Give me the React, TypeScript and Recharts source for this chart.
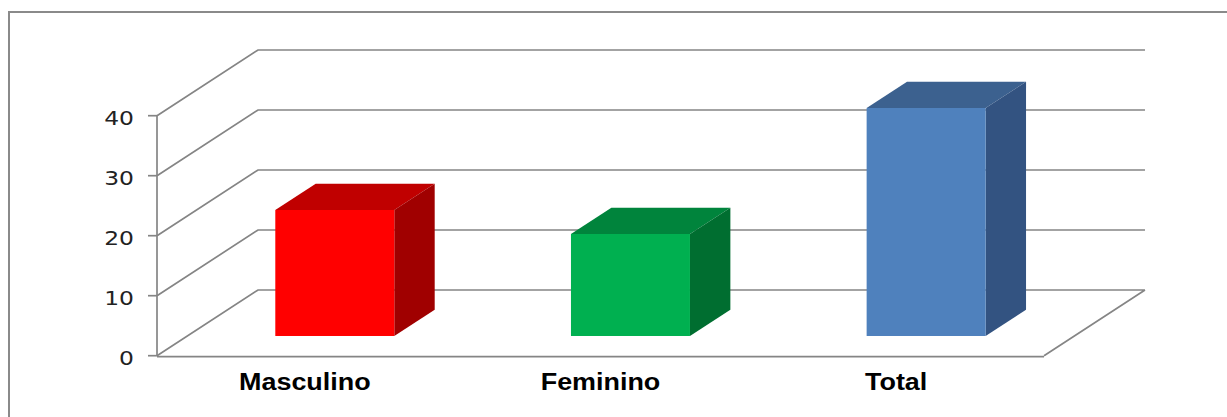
import React from 'react';
import { BarChart, Bar, XAxis, YAxis, CartesianGrid } from 'recharts';

const categories = ['Masculino', 'Feminino', 'Total'];
const values = [21, 17, 38];
const yTicks = [0, 10, 20, 30, 40];
const edgeTicks = [0, 1, 2, 3];

// face colours per bar: front, top, side
const frontColors = ['#FF0000', '#00B050', '#4F81BD'];
const topColors = ['#C00000', '#00843C', '#3C618F'];
const sideColors = ['#A00000', '#006E30', '#335381'];

const data = categories.map((name, i) => ({ name, value: values[i] }));

// perspective of the floor / back wall
const DEPTH_X = 101;
const DEPTH_Y = -65.7;
const FRONT = 0.3;
const BAR_DEPTH = 0.4;
const GRID = '#858585';
const STRETCH = 1.17;

const Bar3D = (props: any) => {
  const { x, y, width, height, index } = props;
  const l = x + DEPTH_X * FRONT;
  const t = y + DEPTH_Y * FRONT;
  const r = l + width;
  const b = t + height;
  const bx = DEPTH_X * BAR_DEPTH;
  const by = DEPTH_Y * BAR_DEPTH;
  return (
    <g>
      <polygon points={`${l},${t} ${l + bx},${t + by} ${r + bx},${t + by} ${r},${t}`} fill={topColors[index]} />
      <polygon points={`${r},${t} ${r + bx},${t + by} ${r + bx},${b + by} ${r},${b}`} fill={sideColors[index]} />
      <rect x={l} y={t} width={width} height={height} fill={frontColors[index]} />
    </g>
  );
};

const gridLine = (p: any) => {
  const { x1, y1, x2 } = p;
  let d = `M${x1},${y1} L${x1 + DEPTH_X},${y1 + DEPTH_Y} L${x2 + DEPTH_X},${y1 + DEPTH_Y}`;
  if (Math.abs(y1 - (p.y + p.height)) < 1) {
    d += ` M${x2},${y1} L${x2 + DEPTH_X},${y1 + DEPTH_Y}`;
  }
  return <path key={p.key} d={d} stroke={GRID} strokeWidth={1.7} fill="none" />;
};

const YTick = (p: any) => (
  <g transform={`translate(${p.x},${p.y}) scale(${STRETCH},1)`}>
    <text x={0} y={0} dy={9.5} textAnchor="end" fontFamily="DejaVu Sans" fontSize={20} fill="#222">
      {p.payload.value}
    </text>
  </g>
);

const XTick = (p: any) => (
  <g transform={`translate(${p.x},${p.y}) scale(${STRETCH},1)`}>
    <text x={0} y={34} textAnchor="middle" fontFamily="Liberation Sans, Arial" fontWeight="bold" fontSize={23} fill="#000">
      {p.payload.value}
    </text>
  </g>
);

export default function App() {
  return (
    <div style={{ position: 'absolute', left: 0, top: 0, width: 1227, height: 417, overflow: 'hidden', background: '#fff' }}>
      <div
        style={{
          position: 'absolute',
          left: 8,
          top: 11,
          width: 1300,
          height: 500,
          borderLeft: '2px solid #8a8a8a',
          borderTop: '2px solid #8a8a8a',
        }}
      />
      <BarChart
        width={1227}
        height={417}
        data={data}
        margin={{ top: 115.7, right: 183, bottom: 59.3, left: 97 }}
        style={{ position: 'absolute', left: 0, top: 0 }}
      >
        <CartesianGrid horizontal={gridLine} vertical={false} />
        <XAxis
          xAxisId="edges"
          type="number"
          domain={[0, 3]}
          ticks={edgeTicks}
          height={1}
          tick={false}
          tickSize={7}
          axisLine={{ stroke: GRID, strokeWidth: 1.7 }}
          tickLine={{ stroke: GRID, strokeWidth: 1.7 }}
        />
        <XAxis
          dataKey="name"
          height={1}
          axisLine={false}
          tickLine={false}
          tickSize={0}
          tickMargin={0}
          interval={0}
          tick={XTick}
        />
        <YAxis
          domain={[0, 40]}
          ticks={yTicks}
          width={60}
          tickSize={9}
          tickMargin={14}
          axisLine={{ stroke: GRID, strokeWidth: 1.7 }}
          tickLine={{ stroke: GRID, strokeWidth: 1.7 }}
          tick={YTick}
        />
        <Bar dataKey="value" barSize={119} shape={Bar3D} isAnimationActive={false} />
      </BarChart>
    </div>
  );
}
